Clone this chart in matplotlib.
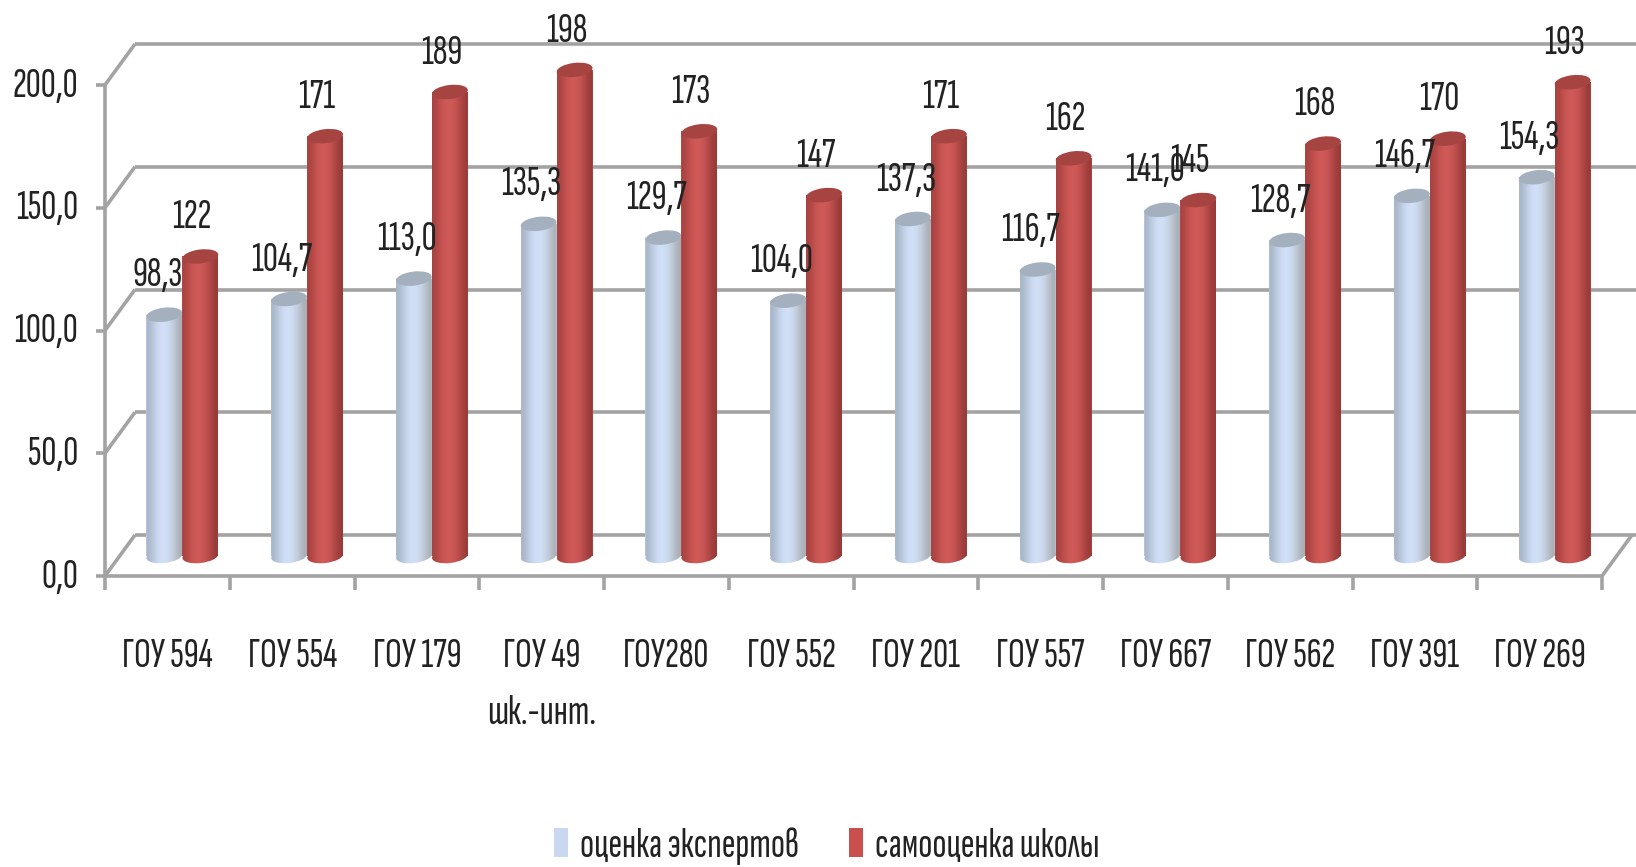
# График: оценка экспертов и самооценка школы (псевдо-3D цилиндры)
import numpy as np
import matplotlib
matplotlib.use("Agg")
import matplotlib.pyplot as plt
from matplotlib import font_manager as fm
from matplotlib.patches import Ellipse
from matplotlib.path import Path
from matplotlib.transforms import Affine2D, IdentityTransform

installed = {f.name for f in fm.fontManager.ttflist}
wanted = ['Sofia Sans Extra Condensed', 'Fira Sans Extra Condensed', 'PT Sans Narrow',
          'Roboto Condensed', 'Liberation Sans', 'DejaVu Sans']
plt.rcParams['font.family'] = [f for f in wanted if f in installed]

categories = ["ГОУ 594", "ГОУ 554", "ГОУ 179", "ГОУ 49\nшк.-инт.", "ГОУ280", "ГОУ 552",
              "ГОУ 201", "ГОУ 557", "ГОУ 667", "ГОУ 562", "ГОУ 391", "ГОУ 269"]
expert_values = [98.3, 104.7, 113.0, 135.3, 129.7, 104.0, 137.3, 116.7, 141.0, 128.7, 146.7, 154.3]
school_values = [122, 171, 189, 198, 173, 147, 171, 162, 145, 168, 170, 193]
y_ticks = [0, 50, 100, 150, 200]
y_tick_labels = ["0,0", "50,0", "100,0", "150,0", "200,0"]

W, H, DPI = 1636, 867, 100
GROUP_PX = 124.75
UNIT_PX = 2.455
X0_PX, Y0_PX = 105, H - 576
FS = 30
TEXT = '#222222'

fig = plt.figure(figsize=(W / DPI, H / DPI), dpi=DPI, facecolor='white')
ax = fig.add_axes([0, 0, 1, 1])
xlim = (-X0_PX / GROUP_PX, (W - X0_PX) / GROUP_PX)
ylim = (-Y0_PX / UNIT_PX, (H - Y0_PX) / UNIT_PX)
ax.set_axis_off()
ax.set_xlim(xlim)
ax.set_ylim(ylim)


def shifted(dx, dy):
    return ax.transData + Affine2D().translate(dx, dy)


back = shifted(30, 41)
mid = shifted(15, 20)
n = len(categories)
line = dict(color='#a3a3a3', lw=2.6, solid_capstyle='butt', zorder=1)

# стенки и линии сетки
for v in y_ticks:
    ax.plot([0, n + 0.24], [v, v], transform=back, **line)
    ax.plot([0, 30 / GROUP_PX], [v, v + 41 / UNIT_PX], **line)
    ax.plot([-9 / GROUP_PX, 0], [v, v], **line)
ax.plot([0, 0], [0, 200], **line)
ax.plot([0, n], [0, 0], **line)
ax.plot([n, n + 30 / GROUP_PX], [0, 41 / UNIT_PX], **line)
for i in range(n + 1):
    ax.plot([i, i], [0, -14 / UNIT_PX], **line)

for v, lab in zip(y_ticks, y_tick_labels):
    ax.text(-27 / GROUP_PX, v - 0.5, lab, ha='right', va='center', fontsize=FS, color=TEXT)

for i, lab in enumerate(categories):
    ax.text(i + 0.5, -62 / UNIT_PX, lab, ha='center', va='top', fontsize=FS, color=TEXT,
            linespacing=1.7)

BAR_W = 36 / GROUP_PX
ELL_W, ELL_H, TILT = 36, 14, 7


def cylinder(x, value, stops, top_color, z):
    px = mid.transform([(x, value), (x, 0)])
    body = Affine2D().scale(ELL_W / 2, ELL_H / 2).rotate_deg(TILT)
    bottom = Path.unit_circle().transformed(body + Affine2D().translate(*px[1]))
    rect = Path.unit_rectangle().transformed(
        Affine2D().scale(ELL_W, px[0][1] - px[1][1]).translate(px[1][0] - ELL_W / 2, px[1][1]))
    outline = Path.make_compound_path(rect, bottom)
    grad = np.array([[matplotlib.colors.to_rgb(c) for c in stops]])
    im = ax.imshow(grad, extent=(x - BAR_W / 2, x + BAR_W / 2, -10 / UNIT_PX, value + 5),
                   transform=mid, aspect='auto', interpolation='bicubic', zorder=z)
    im.set_clip_path(outline, IdentityTransform())
    ax.add_patch(Ellipse(px[0], ELL_W, ELL_H, angle=TILT, facecolor=top_color, edgecolor='none',
                         transform=IdentityTransform(), zorder=z + 0.1))


x = np.arange(n)
blue_x = x + 0.5 - BAR_W / 2
red_x = x + 0.5 + BAR_W / 2
ax.bar(blue_x, expert_values, BAR_W, color='#c9d8f0', transform=mid, zorder=3, label='оценка экспертов')
ax.bar(red_x, school_values, BAR_W, color='#c9504e', transform=mid, zorder=4, label='самооценка школы')

blue_stops = ['#a9b6c9', '#c4d2e9', '#d2e1f9', '#cfdef5', '#c2ccd9', '#a8aeb6']
red_stops = ['#a84341', '#c65250', '#d05c5a', '#cd5856', '#b74b49', '#983a39']
for i in range(n):
    cylinder(blue_x[i], expert_values[i], blue_stops, '#a5b0bf', 3)
    cylinder(red_x[i], school_values[i], red_stops, '#a64442', 4)
    ax.annotate(f"{expert_values[i]:.1f}".replace('.', ','), (blue_x[i], expert_values[i]),
                xycoords=mid, xytext=(-5, 28), textcoords='offset points', ha='center', va='center',
                fontsize=FS, color=TEXT, zorder=10)
    ax.annotate(str(school_values[i]), (red_x[i], school_values[i]),
                xycoords=mid, xytext=(-6, 28), textcoords='offset points', ha='center', va='center',
                fontsize=FS, color=TEXT, zorder=10)

ax.set_xlim(xlim)
ax.set_ylim(ylim)

leg = ax.legend(loc='center', bbox_to_anchor=(827 / W, (H - 846) / H), bbox_transform=fig.transFigure,
                ncol=2, frameon=False, fontsize=FS, handlelength=0.32, handleheight=0.7,
                handletextpad=0.3, columnspacing=1.2, labelcolor=TEXT, borderpad=0)

plt.savefig("out.png", dpi=DPI)
